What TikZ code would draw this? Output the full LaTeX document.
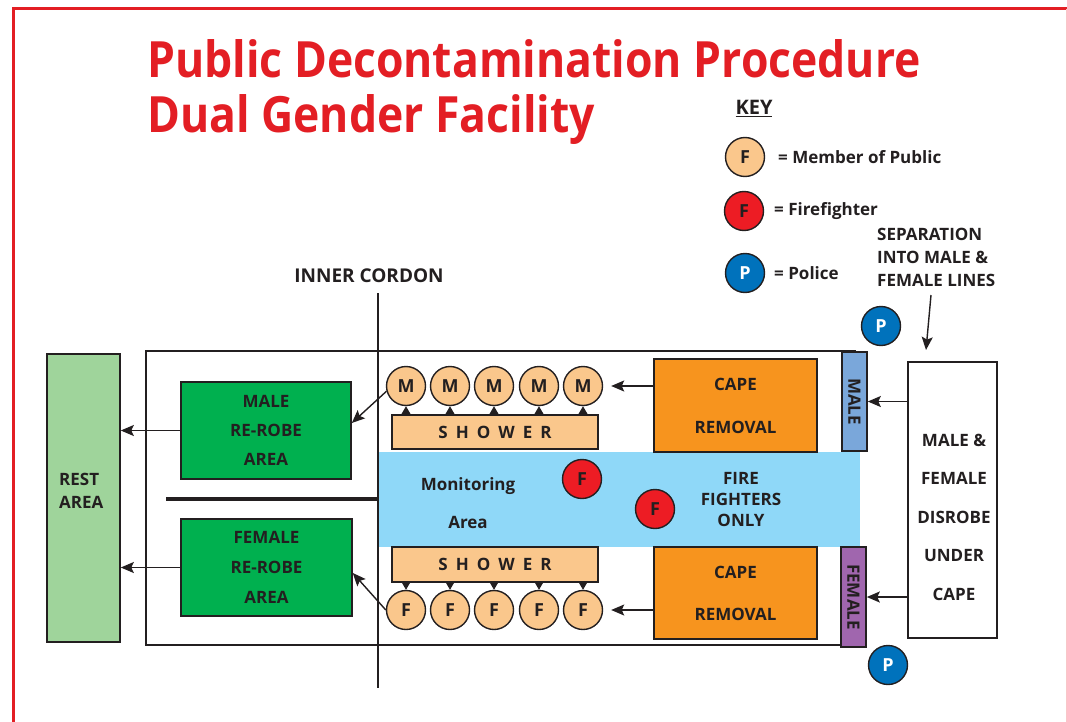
\documentclass[tikz,border=0pt]{standalone}
\usepackage{fontspec}
\setmainfont{Open Sans}
\usetikzlibrary{arrows.meta}

\definecolor{titlered}{HTML}{E31E24}
\definecolor{ink}{HTML}{231F20}
\definecolor{publicorange}{HTML}{FAC78C}
\definecolor{firered}{HTML}{ED1C24}
\definecolor{policeblue}{HTML}{0072BC}
\definecolor{robegreen}{HTML}{00B04F}
\definecolor{restgreen}{HTML}{9FD49B}
\definecolor{capeorange}{HTML}{F7941E}
\definecolor{monitorblue}{HTML}{8FD8F8}
\definecolor{maleblue}{HTML}{7AA7DA}
\definecolor{femalepurple}{HTML}{A066AE}

\newcommand{\txtsize}[1]{\fontsize{17}{#1}\selectfont\bfseries}
\newcommand{\showerword}{S\hspace{8pt}H\hspace{8pt}O\hspace{8pt}W\hspace{8pt}E\hspace{8pt}R}
\newcommand{\titletext}[1]{\scalebox{0.89}[1]{#1}}

\begin{document}
\begin{tikzpicture}[x=1pt,y=-1pt,
  area/.style={draw=ink, line width=1.6pt, inner sep=0pt, text=ink},
  person/.style={circle, draw=ink, line width=1.4pt, minimum size=39pt, inner sep=0pt,
    text=ink, font=\fontsize{18}{18}\selectfont\bfseries},
  lbl/.style={text=ink, font=\txtsize{20}, inner sep=0pt},
  heading/.style={anchor=base west, text=titlered, inner sep=0pt, font=\fontsize{50}{55}\selectfont\bfseries},
  flow/.style={draw=ink, line width=1.4pt, -{Stealth[length=13pt,width=11pt,inset=2.5pt]}},
  lift/.style={draw=ink, line width=1pt, -{Triangle[length=8pt,width=9pt]}}
]
\useasboundingbox (0,0) rectangle (1067,722);

% page frame
\draw[titlered, line width=3pt] (13,740) -- (13,9) -- (1067,9);
\draw[titlered!25, line width=1pt] (1066,9) -- (1066,740);

% title
\node[heading] (title1) at (147,78) {\titletext{Public Decontamination Procedure}};
\node[heading] (title2) at (147,133) {\titletext{Dual Gender Facility}};

% key
\node[lbl, anchor=base, font=\fontsize{20}{20}\selectfont\bfseries] (key) at (754,115) {\underline{KEY}};
\node[person, fill=publicorange] (keypublic) at (745,157) {F};
\node[lbl, anchor=west] (keypublictxt) at (778,157) {= Member of Public};
\node[person, fill=firered] (keyfire) at (744,211) {F};
\node[lbl, anchor=west] (keyfiretxt) at (774,211) {= Firefighter};
\node[person, fill=policeblue, text=white] (keypolice) at (745,273) {P};
\node[lbl, anchor=west] (keypolicetxt) at (774,273) {= Police};

% separation note
\node[lbl, anchor=north west, align=left, font=\txtsize{23}] (sepnote) at (877,228)
  {SEPARATION\\INTO MALE \&\\FEMALE LINES};
\coordinate (sepfrom) at (931,295);
\coordinate (septo) at (926,350);
\draw[flow] (sepfrom) -- (septo);

% police
\node[person, fill=policeblue, text=white] (policetop) at (881,326) {P};
\node[person, fill=policeblue, text=white] (policebot) at (888,665) {P};

% inner cordon label
\node[lbl, font=\fontsize{19}{20}\selectfont\bfseries] (cordontxt) at (369,276) {INNER CORDON};

% facility enclosure
\draw[ink, line width=1.6pt] (146,351) rectangle (855,645);

% rest area
\node[area, fill=restgreen, minimum width=73pt, minimum height=288pt] (rest) at (83.5,498) {};
\node[lbl, anchor=west, align=left, font=\txtsize{23}] (resttxt) at (59,491) {REST\\AREA};

% re-robe areas
\node[area, fill=robegreen, minimum width=170pt, minimum height=97pt, align=center,
      font=\txtsize{29}] (malerr) at (266,430.5) {MALE\\RE-ROBE\\AREA};
\node[area, fill=robegreen, minimum width=171pt, minimum height=97pt, align=center,
      font=\txtsize{30}] (femalerr) at (266.5,567.5) {FEMALE\\RE-ROBE\\AREA};

% divider between male and female sides
\coordinate (divA) at (166,499);
\coordinate (divB) at (378,499);
\draw[ink, line width=4pt] (divA) -- (divB);

% monitoring area
\node[fill=monitorblue, minimum width=481pt, minimum height=95pt, inner sep=0pt] (monitor) at (619.5,499.5) {};
\node[lbl, align=center, font=\txtsize{38}] (montxt) at (468,503) {Monitoring\\Area};
\node[lbl, align=center, font=\txtsize{21}] (fftxt) at (741,500) {FIRE\\FIGHTERS\\ONLY};
\node[person, fill=firered] (ff1) at (582,479) {F};
\node[person, fill=firered] (ff2) at (655,509) {F};

% inner cordon line
\coordinate (cordA) at (378,293);
\coordinate (cordB) at (378,688);
\draw[ink, line width=1.5pt] (cordA) -- (cordB);

% showers
\node[area, fill=publicorange, line width=1.2pt, minimum width=206pt, minimum height=34pt,
      font=\txtsize{20}] (showtop) at (495,432) {\showerword};
\node[area, fill=publicorange, line width=1.2pt, minimum width=206pt, minimum height=35pt,
      font=\txtsize{20}] (showbot) at (495,564.5) {\showerword};

% male and female shower queues
\foreach \i/\x in {1/406,2/450,3/494,4/539,5/583}{
  \node[person, fill=publicorange] (m\i) at (\x,386) {M};
  \draw[lift] (m\i |- showtop.north) -- (m\i.south);
  \node[person, fill=publicorange] (f\i) at (\x,610) {F};
  \draw[lift] (f\i |- showbot.south) -- (f\i.north);
}

% cape removal
\node[area, fill=capeorange, minimum width=163pt, minimum height=93pt, align=center,
      font=\txtsize{43}] (capetop) at (735.5,405.5) {CAPE\\REMOVAL};
\node[area, fill=capeorange, minimum width=163pt, minimum height=92pt, align=center,
      font=\txtsize{42}] (capebot) at (735.5,593) {CAPE\\REMOVAL};

% gender lane markers
\node[area, fill=maleblue, minimum width=25pt, minimum height=99pt] (malebar) at (854.5,401.5) {};
\node[lbl, rotate=-90] at (malebar) {MALE};
\node[area, fill=femalepurple, minimum width=25pt, minimum height=100pt] (femalebar) at (853.5,597) {};
\node[lbl, rotate=-90] at (femalebar) {FEMALE};

% disrobe area
\node[area, fill=white, minimum width=89pt, minimum height=276pt] (disrobe) at (952.5,500) {};
\node[lbl, align=center, font=\txtsize{38.5}] (disrobetxt) at (954,517) {MALE \&\\FEMALE\\DISROBE\\UNDER\\CAPE};

% flow connectors
\draw[flow] (disrobe.west |- malebar.east) -- (malebar.east);
\draw[flow] (disrobe.west |- femalebar.east) -- (femalebar.east);
\draw[flow, shorten >=8pt] (capetop.west |- m5) -- (m5.east);
\draw[flow, shorten >=8pt] (capebot.west |- f5) -- (f5.east);
\draw[flow] (m1.195) -- ([yshift=7.5pt]malerr.east);
\draw[flow] (f1.west) -- ([yshift=-5.5pt]femalerr.east);
\draw[flow] (malerr.west) -- (rest.east |- malerr.west);
\draw[flow] (femalerr.west) -- (rest.east |- femalerr.west);
\end{tikzpicture}
\end{document}
